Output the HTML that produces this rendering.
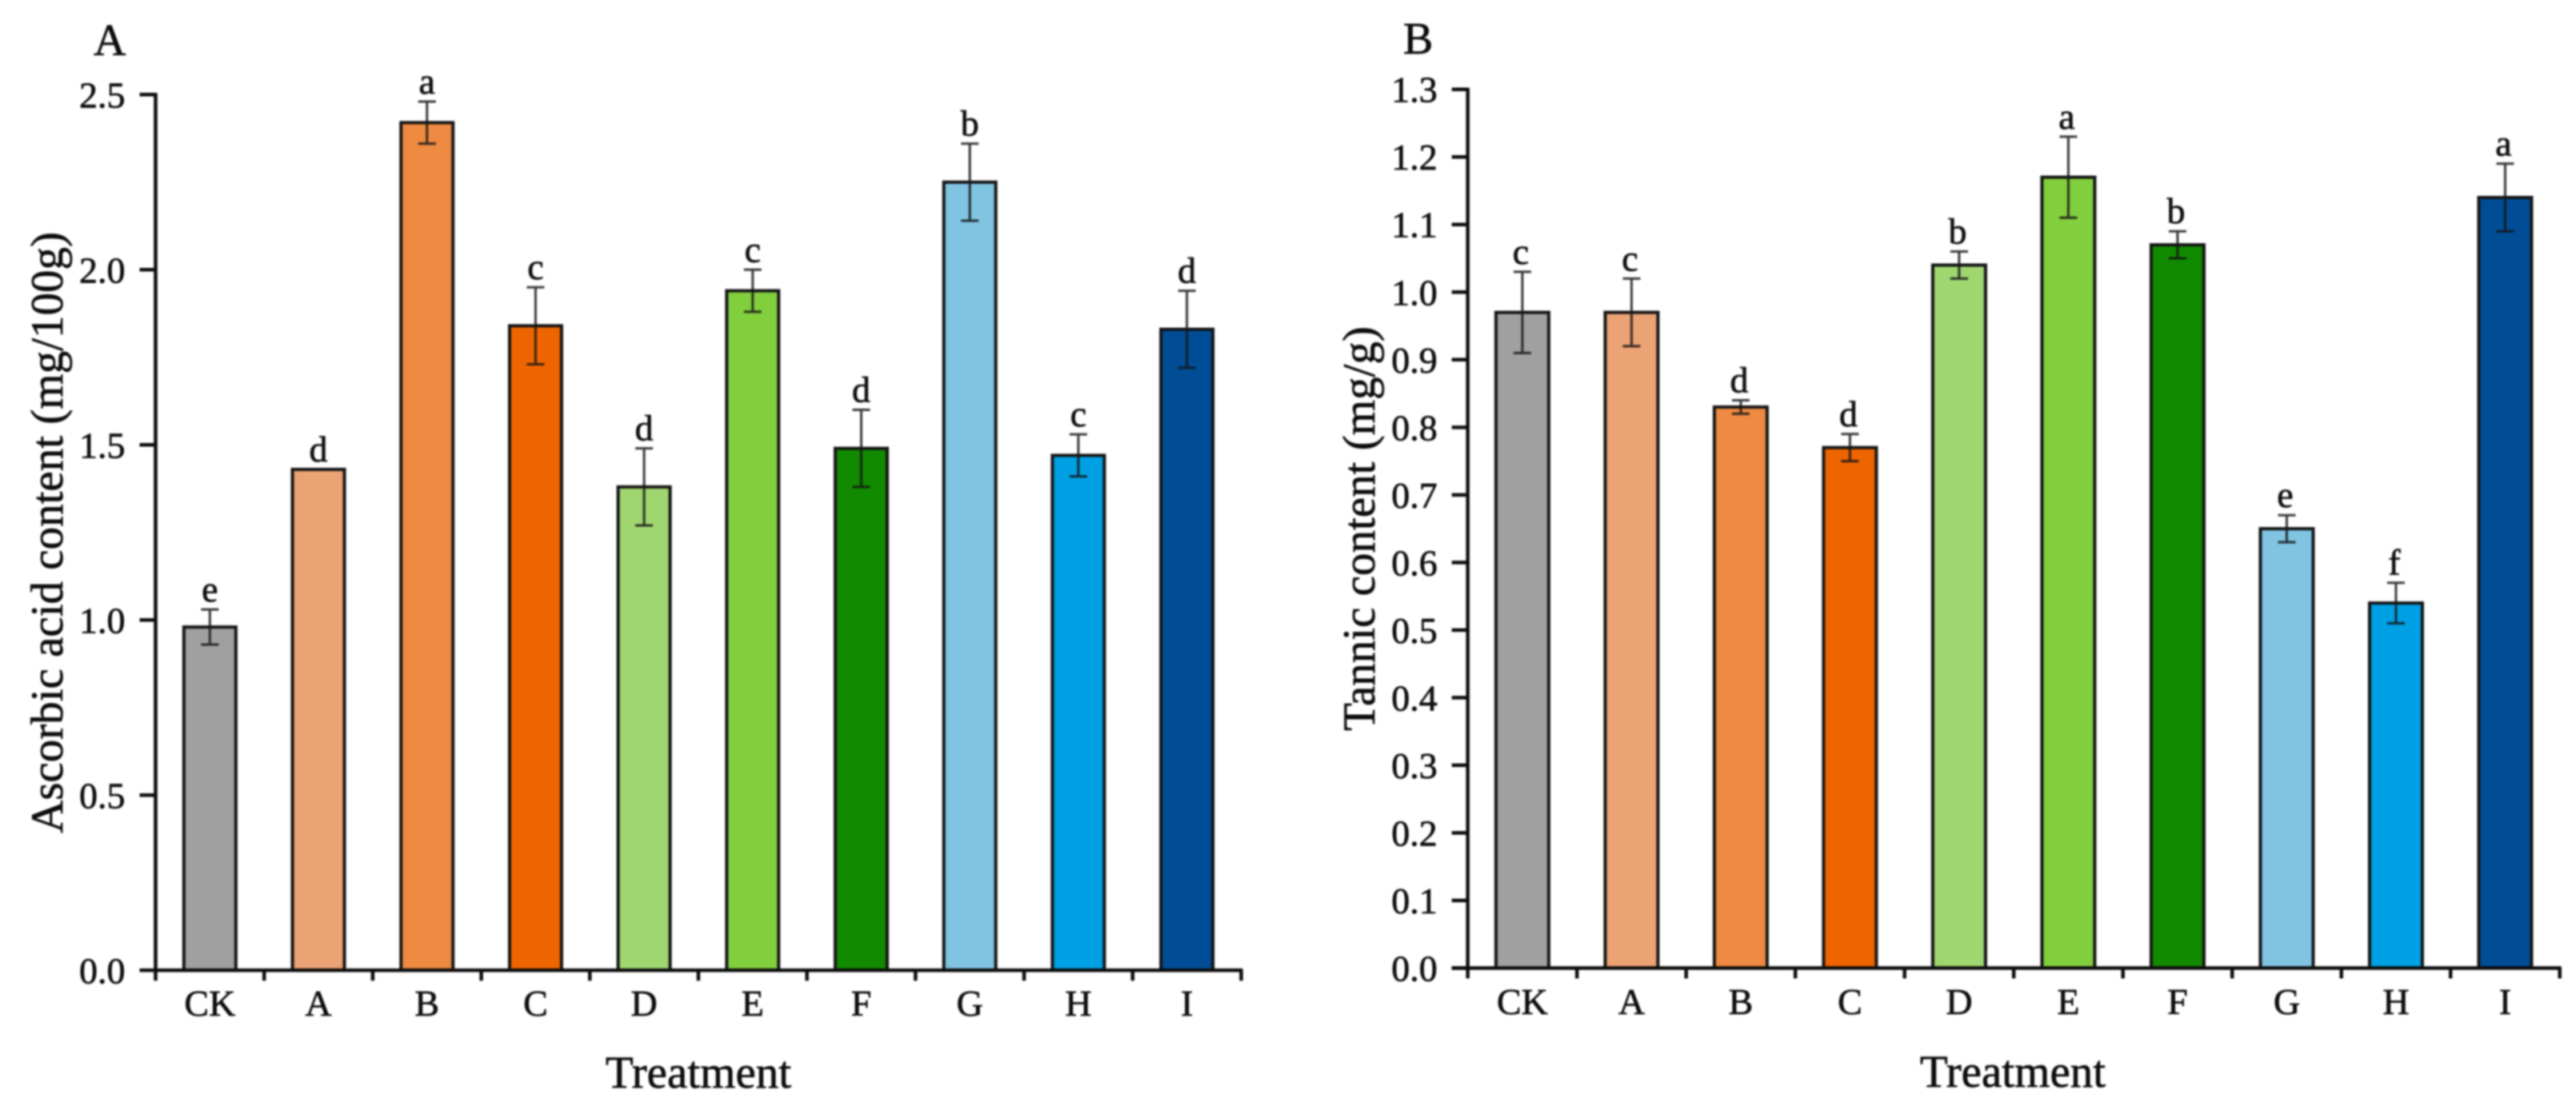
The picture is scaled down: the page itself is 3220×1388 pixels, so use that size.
<!DOCTYPE html>
<html lang="en">
<head>
<meta charset="utf-8">
<title>Ascorbic acid and tannic content by treatment</title>
<style>
html,body{margin:0;padding:0;background:#fff;width:3220px;height:1388px;overflow:hidden}
svg{display:block;filter:blur(1px)}
text{font-family:"Liberation Serif",serif;fill:#0c0c0c;stroke:#0c0c0c;stroke-width:.7px}
</style>
</head>
<body>
<svg id="figure" xmlns="http://www.w3.org/2000/svg" width="3220" height="1388" viewBox="0 0 3220 1388">
  <rect x="0" y="0" width="3220" height="1388" fill="#fff"/>
  <text x="117" y="69" font-size="56">A</text>
  <text x="1754" y="67" font-size="56">B</text>
  <text transform="translate(78,666) rotate(-90)" text-anchor="middle" font-size="57">Ascorbic acid content (mg/100g)</text>
  <text transform="translate(1718,661) rotate(-90)" text-anchor="middle" font-size="57">Tannic content (mg/g)</text>
  <text x="873" y="1360" text-anchor="middle" font-size="57">Treatment</text>
  <text x="2516" y="1359" text-anchor="middle" font-size="57">Treatment</text>
  <g id="panel-a"></g>
  <g id="panel-b"></g>
</svg>
<script>
const categories = ['CK','A','B','C','D','E','F','G','H','I'];
const barColors = ['#a0a0a0','#eba274','#ee8a42','#ee6500','#a0d670','#82cf3e','#118a00','#80c4e2','#00a0e4','#004d96'];

const ticksA = ['0.0','0.5','1.0','1.5','2.0','2.5'];
const valuesA = [0.98,1.43,2.42,1.84,1.38,1.94,1.49,2.25,1.47,1.83];
const errorsA = [0.05,0,0.06,0.11,0.11,0.06,0.11,0.11,0.06,0.11];
const lettersA = ['e','d','a','c','d','c','d','b','c','d'];

const ticksB = ['0.0','0.1','0.2','0.3','0.4','0.5','0.6','0.7','0.8','0.9','1.0','1.1','1.2','1.3'];
const valuesB = [0.97,0.97,0.83,0.77,1.04,1.17,1.07,0.65,0.54,1.14];
const errorsB = [0.06,0.05,0.01,0.02,0.02,0.06,0.02,0.02,0.03,0.05];
const lettersB = ['c','c','d','d','b','a','b','e','f','a'];

const NS = 'http://www.w3.org/2000/svg';

function make(parent, tag, attrs, content) {
  const el = document.createElementNS(NS, tag);
  Object.keys(attrs).forEach(function (k) { el.setAttribute(k, attrs[k]); });
  if (content !== undefined) el.textContent = content;
  parent.appendChild(el);
  return el;
}

function drawPanel(rootId, prefix, layout, ticks, values, errors, letters) {
  const root = document.getElementById(rootId);
  const domainMax = parseFloat(ticks[ticks.length - 1]);
  const yScale = function (v) { return layout.baseY - (v / domainMax) * (layout.baseY - layout.topY); };
  const edgeX = function (i) { return layout.axisX + i * layout.step; };
  const centerX = function (i) { return edgeX(i) + layout.step / 2; };
  const inner = layout.barWidth - 4;

  values.forEach(function (v, i) {
    const cx = centerX(i);
    const yTop = yScale(v);
    const bar = make(root, 'rect', {
      x: cx - inner / 2, y: yTop, width: inner, height: layout.baseY - yTop,
      fill: barColors[i], stroke: '#141414', 'stroke-width': 4
    });
    
    

    const hi = yScale(v + errors[i]);
    const lo = yScale(v - errors[i]);
    if (errors[i] > 0) {
      const err = make(root, 'path', {
        d: 'M' + cx + ' ' + hi + 'V' + lo + 'M' + (cx - 11) + ' ' + hi + 'H' + (cx + 11) + 'M' + (cx - 11) + ' ' + lo + 'H' + (cx + 11),
        fill: 'none', stroke: '#151515', 'stroke-opacity': 0.85, 'stroke-width': 3
      });
      
      
    }

    const sig = make(root, 'text', {
      x: cx + layout.letterDx, y: hi - 10, 'text-anchor': 'middle', 'font-size': 46
    }, letters[i]);
    
    

    const cat = make(root, 'text', {
      x: cx, y: layout.catLabelY, 'text-anchor': 'middle', 'font-size': 46
    }, categories[i]);
    
    
  });

  const yAxis = make(root, 'line', {
    x1: layout.axisX, x2: layout.axisX, y1: layout.topY - 2, y2: layout.baseY + 13,
    stroke: '#0c0c0c', 'stroke-width': 4.5
  });
  
  

  const xAxis = make(root, 'line', {
    x1: layout.axisX - 20, x2: edgeX(categories.length) + 2, y1: layout.baseY, y2: layout.baseY,
    stroke: '#0c0c0c', 'stroke-width': 4.5
  });
  
  

  ticks.forEach(function (label) {
    const y = yScale(parseFloat(label));
    const tick = make(root, 'line', {
      x1: layout.axisX - 20, x2: layout.axisX, y1: y, y2: y, stroke: '#0c0c0c', 'stroke-width': 4.5
    });
    
    
    const text = make(root, 'text', {
      x: layout.axisX - 38, y: y + 16, 'text-anchor': 'end', 'font-size': 46
    }, label);
    
    
  });

  for (let i = 1; i <= categories.length; i++) {
    const tick = make(root, 'line', {
      x1: edgeX(i), x2: edgeX(i), y1: layout.baseY, y2: layout.baseY + 13, stroke: '#0c0c0c', 'stroke-width': 4.5
    });
    
    
  }
}

drawPanel('panel-a', 'panel-a',
  { axisX: 194.5, topY: 118.3, baseY: 1213.3, step: 135.7, barWidth: 69, catLabelY: 1270, letterDx: 0 },
  ticksA, valuesA, errorsA, lettersA);

drawPanel('panel-b', 'panel-b',
  { axisX: 1834.7, topY: 111.7, baseY: 1210.5, step: 136.5, barWidth: 70, catLabelY: 1268, letterDx: -2 },
  ticksB, valuesB, errorsB, lettersB);
</script>
</body>
</html>
